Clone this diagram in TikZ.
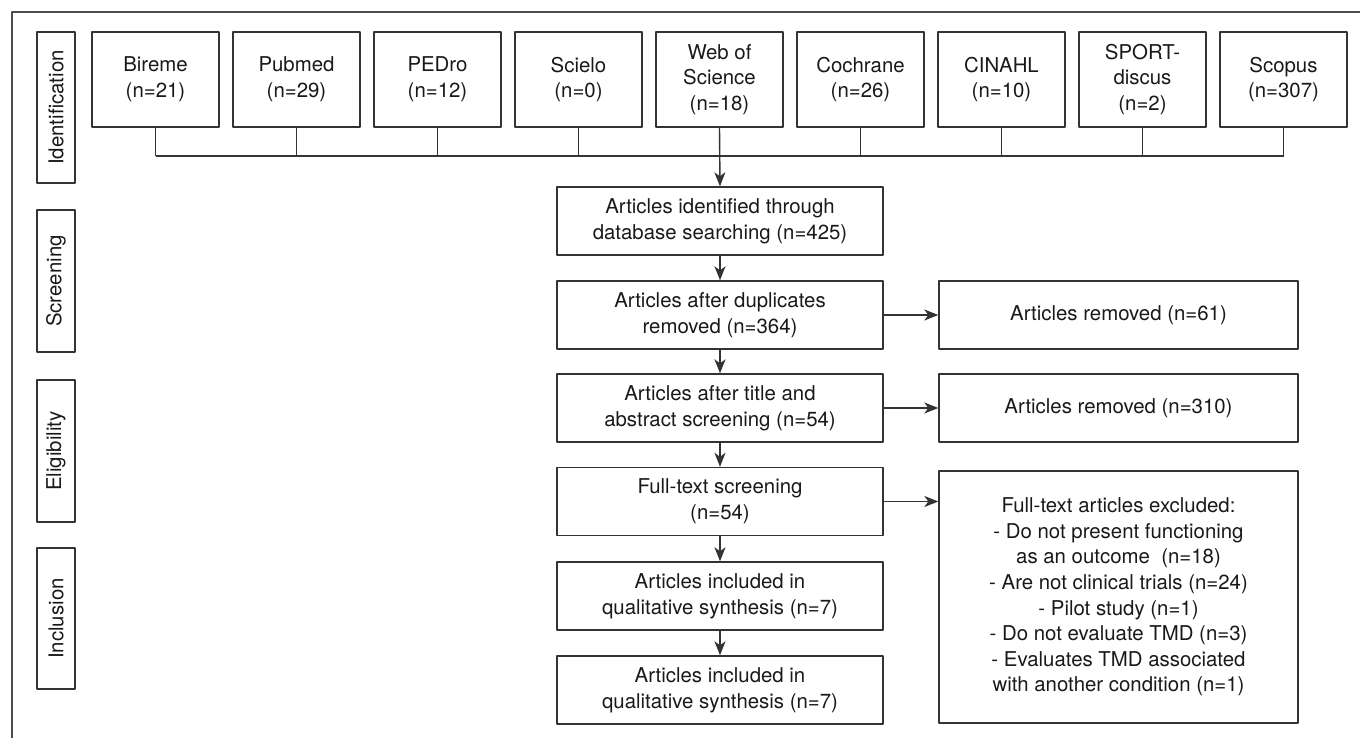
\documentclass[tikz,border=0pt]{standalone}
\usepackage{fontspec}
\setmainfont{TeX Gyre Heros}
\usetikzlibrary{arrows.meta}
\begin{document}
\begin{tikzpicture}[x=0.5pt,y=-0.5pt,>={Stealth[length=7pt,width=5.5pt,inset=2pt]},line join=round,
	font=\fontsize{10.2}{12.8}\selectfont,
	box/.style={draw=black!80,line width=0.7pt,align=center,inner sep=0pt,text=black!90},
	db/.style={box,minimum width=63.5pt,minimum height=47.5pt},
	flow/.style={box,minimum width=163pt,minimum height=34pt},
	side/.style={box,minimum width=179.5pt,minimum height=34pt},
	phase/.style={box,rotate=90,minimum height=19pt},
	link/.style={draw=black!80,line width=0.7pt}]
	\useasboundingbox (0,0) rectangle (1360,738);
	\draw[black!70,line width=0.75pt] (1360,12) -- (12,12) -- (12,738);
	\node[phase,minimum width=75.5pt] (pid) at (56,107.5) {Identification};
	\node[phase,minimum width=71pt] (psc) at (56,281) {Screening};
	\node[phase,minimum width=71pt] (pel) at (56,451) {Eligibility};
	\node[phase,minimum width=70.5pt] (pin) at (56,618.5) {Inclusion};
	\foreach \name/\txt [count=\i from 0] in {bireme/{Bireme\\(n=21)},pubmed/{Pubmed\\(n=29)},pedro/{PEDro\\(n=12)},scielo/{Scielo\\(n=0)},wos/{Web of\\Science\\(n=18)},cochrane/{Cochrane\\(n=26)},cinahl/{CINAHL\\(n=10)},sport/{SPORT-\\discus\\(n=2)},scopus/{Scopus\\(n=307)}}
		\node[db] (\name) at (155.5+141*\i,79.5) {\txt};
	\coordinate (bus) at (0,156);
	\node[flow] (ident) at (720,221) {Articles identified through\\database searching (n=425)};
	\node[flow] (dupl) at (720,315) {Articles after duplicates\\removed (n=364)};
	\node[flow] (title) at (720,408) {Articles after title and\\abstract screening (n=54)};
	\node[flow] (full) at (720,501.5) {Full-text screening\\(n=54)};
	\node[flow] (incl) at (720,596) {Articles included in\\qualitative synthesis (n=7)};
	\node[flow] (final) at (720,690) {Articles included in\\qualitative synthesis (n=7)};
	\node[side] (rem1) at (1118.5,315) {Articles removed (n=61)};
	\node[side] (rem2) at (1118.5,408) {Articles removed (n=310)};
	\node[side,minimum height=126pt] (excl) at (1118.5,597) {Full-text articles excluded:\\- Do not present functioning\\as an outcome~~(n=18)\\- Are not clinical trials (n=24)\\- Pilot study (n=1)\\- Do not evaluate TMD (n=3)\\- Evaluates TMD associated\\with another condition (n=1)};
	\foreach \name in {bireme,pubmed,pedro,scielo,cochrane,cinahl,sport,scopus}
		\draw[link] (\name.south) -- (\name.south |- bus);
	\draw[link] (bireme.south |- bus) -- (scopus.south |- bus);
	\draw[link,->] (wos.south) -- (ident.north);
	\draw[link,->] (ident) -- (dupl);
	\draw[link,->] (dupl) -- (title);
	\draw[link,->] (title) -- (full);
	\draw[link,->] (full) -- (incl);
	\draw[link,->] (incl) -- (final);
	\draw[link,->] (dupl) -- (rem1);
	\draw[link,->] (title) -- (rem2);
	\draw[link,->] (full.east) -- (full.east -| excl.west);
\end{tikzpicture}
\end{document}
